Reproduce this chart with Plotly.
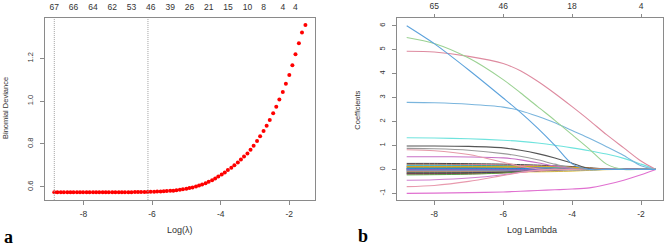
import plotly.graph_objects as go

# ---------------- Panel a: cross-validated binomial deviance ----------------
log_lambda = [-8.85, -8.76, -8.66, -8.57, -8.47, -8.38, -8.29, -8.19, -8.10, -8.01,
              -7.91, -7.82, -7.72, -7.63, -7.54, -7.44, -7.35, -7.26, -7.16, -7.07,
              -6.97, -6.88, -6.79, -6.69, -6.60, -6.50, -6.41, -6.32, -6.22, -6.13,
              -6.04, -5.94, -5.85, -5.75, -5.66, -5.57, -5.47, -5.38, -5.29, -5.19,
              -5.10, -5.00, -4.91, -4.82, -4.72, -4.63, -4.54, -4.44, -4.35, -4.25,
              -4.16, -4.07, -3.97, -3.88, -3.79, -3.69, -3.60, -3.50, -3.41, -3.32,
              -3.22, -3.13, -3.04, -2.94, -2.85, -2.75, -2.66, -2.57, -2.47, -2.38,
              -2.29, -2.19, -2.10, -2.00, -1.91, -1.82, -1.72, -1.63, -1.53]
deviance = [0.574, 0.574, 0.574, 0.574, 0.574, 0.574, 0.574, 0.574, 0.574, 0.574,
            0.574, 0.574, 0.574, 0.574, 0.574, 0.575, 0.575, 0.575, 0.575, 0.575,
            0.575, 0.575, 0.575, 0.575, 0.575, 0.576, 0.576, 0.576, 0.576, 0.576,
            0.577, 0.577, 0.578, 0.578, 0.579, 0.580, 0.581, 0.582, 0.584, 0.586,
            0.588, 0.591, 0.594, 0.597, 0.601, 0.606, 0.611, 0.617, 0.624, 0.631,
            0.639, 0.648, 0.657, 0.667, 0.678, 0.689, 0.701, 0.714, 0.728, 0.742,
            0.756, 0.773, 0.792, 0.814, 0.836, 0.860, 0.885, 0.912, 0.943, 0.974,
            1.008, 1.043, 1.081, 1.122, 1.167, 1.219, 1.270, 1.321, 1.356]
nz_index = [0, 6, 12, 18, 24, 30, 36, 42, 48, 54, 60, 65, 71, 75]
nz_labels = ["67", "66", "64", "62", "53", "46", "39", "26", "21", "15", "10", "8", "4", "4"]
log_lambda_min = -8.85
log_lambda_1se = -6.12
a_xticks = [-8, -6, -4, -2]
a_xlabels = ["-8", "-6", "-4", "-2"]
a_yticks = [0.6, 0.8, 1.0, 1.2]
a_ylabels = ["0.6", "0.8", "1.0", "1.2"]

# ---------------- Panel b: coefficient paths ----------------
coef_log_lambda = [-8.8, -8.0, -7.0, -6.0, -5.5, -5.0, -4.5, -4.0, -3.5, -3.0, -2.5, -2.0, -1.57]
coef_blue = [6.0, 5.25, 4.15, 2.98, 2.38, 1.72, 1.0, 0.23, 0, 0, 0, 0, 0]
coef_green = [5.51, 5.26, 4.65, 3.75, 3.2, 2.62, 2.05, 1.45, 0.85, 0.22, 0, 0, 0]
coef_pink = [4.93, 4.9, 4.72, 4.42, 4.12, 3.68, 3.17, 2.62, 2.05, 1.45, 0.9, 0.35, 0]
coef_steel = [2.8, 2.78, 2.72, 2.6, 2.45, 2.22, 1.95, 1.62, 1.3, 0.95, 0.58, 0.15, 0]
coef_cyan = [1.32, 1.31, 1.28, 1.22, 1.17, 1.1, 1.01, 0.9, 0.78, 0.64, 0.46, 0.22, 0]
coef_black = [0.98, 0.98, 0.96, 0.9, 0.8, 0.66, 0.48, 0.26, 0.03, 0, 0, 0, 0]
coef_grey = [0.88, 0.86, 0.8, 0.66, 0.55, 0.4, 0.22, 0.06, 0, 0, 0, 0, 0]
coef_salmon = [0.82, 0.78, 0.62, 0.3, 0.13, 0.03, 0, 0, 0, 0, 0, 0, 0]
coef_purple = [0.53, 0.53, 0.52, 0.48, 0.4, 0.28, 0.14, 0.04, 0, 0, 0, 0, 0]
coef_magenta_neg = [-1.0, -0.99, -0.97, -0.94, -0.91, -0.88, -0.85, -0.82, -0.77, -0.63, -0.45, -0.22, 0]
coef_pink_neg = [-0.72, -0.67, -0.5, -0.25, -0.13, -0.04, 0, 0, 0, 0, 0, 0, 0]
coef_purple_neg = [-0.45, -0.43, -0.36, -0.22, -0.12, -0.04, 0, 0, 0, 0, 0, 0, 0]
coef_small = [
    [0.25, 0.25, 0.24, 0.22, 0.20, 0.18, 0.15, 0.12, 0.07, 0.02, 0, 0, 0],
    [0.21, 0.21, 0.20, 0.18, 0.16, 0.14, 0.12, 0.09, 0.05, 0.01, 0, 0, 0],
    [0.18, 0.18, 0.17, 0.15, 0.13, 0.10, 0.07, 0.04, 0.01, 0, 0, 0, 0],
    [0.15, 0.15, 0.15, 0.14, 0.12, 0.10, 0.07, 0.04, 0.01, 0, 0, 0, 0],
    [0.13, 0.13, 0.12, 0.11, 0.10, 0.08, 0.05, 0.02, 0, 0, 0, 0, 0],
    [0.11, 0.11, 0.10, 0.09, 0.08, 0.06, 0.04, 0.02, 0, 0, 0, 0, 0],
    [0.09, 0.09, 0.09, 0.08, 0.06, 0.04, 0.02, 0, 0, 0, 0, 0, 0],
    [0.07, 0.07, 0.07, 0.06, 0.05, 0.03, 0.01, 0, 0, 0, 0, 0, 0],
    [0.05, 0.05, 0.05, 0.04, 0.03, 0.02, 0.01, 0, 0, 0, 0, 0, 0],
    [0.03, 0.03, 0.03, 0.03, 0.02, 0.01, 0, 0, 0, 0, 0, 0, 0],
    [0.01, 0.01, 0.01, 0.01, 0.01, 0.01, 0.01, 0.01, 0, 0, 0, 0, 0],
    [-0.01, -0.01, -0.01, -0.01, -0.01, 0, 0, 0, 0, 0, 0, 0, 0],
    [-0.03, -0.03, -0.03, -0.03, -0.02, -0.01, 0, 0, 0, 0, 0, 0, 0],
    [-0.05, -0.05, -0.05, -0.04, -0.03, -0.02, -0.01, 0, 0, 0, 0, 0, 0],
    [-0.07, -0.07, -0.07, -0.06, -0.05, -0.03, -0.01, 0, 0, 0, 0, 0, 0],
    [-0.09, -0.09, -0.09, -0.08, -0.06, -0.04, -0.02, 0, 0, 0, 0, 0, 0],
    [-0.10, -0.10, -0.10, -0.10, -0.10, -0.10, -0.09, -0.07, -0.04, -0.01, 0, 0, 0],
    [-0.12, -0.12, -0.12, -0.10, -0.08, -0.05, -0.02, 0, 0, 0, 0, 0, 0],
    [-0.14, -0.14, -0.13, -0.11, -0.08, -0.05, -0.02, 0, 0, 0, 0, 0, 0],
    [-0.16, -0.16, -0.15, -0.12, -0.09, -0.05, -0.02, 0, 0, 0, 0, 0, 0],
    [-0.18, -0.18, -0.17, -0.13, -0.09, -0.05, -0.01, 0, 0, 0, 0, 0, 0],
    [-0.20, -0.20, -0.19, -0.15, -0.11, -0.07, -0.03, 0, 0, 0, 0, 0, 0],
    [-0.23, -0.22, -0.20, -0.15, -0.10, -0.05, -0.01, 0, 0, 0, 0, 0, 0],
    [0.04, 0.04, 0.04, 0.04, 0.04, 0.03, 0.02, 0.01, 0, 0, 0, 0, 0],
    [0.00, 0.00, 0.00, 0.00, 0.00, 0.00, 0.00, 0.00, 0.00, 0.00, 0, 0, 0],
    [-0.02, -0.02, -0.02, -0.02, -0.02, -0.02, -0.01, 0, 0, 0, 0, 0, 0],
    [0.12, 0.12, 0.12, 0.12, 0.12, 0.12, 0.11, 0.09, 0.05, 0.01, 0, 0, 0],
    [-0.06, -0.06, -0.06, -0.06, -0.06, -0.06, -0.06, -0.05, -0.03, 0, 0, 0, 0],
]
b_xticks = [-8, -6, -4, -2]
b_xlabels = ["-8", "-6", "-4", "-2"]
b_top_labels = ["65", "46", "18", "4"]
b_yticks = [-1, 0, 1, 2, 3, 4, 5, 6]
b_ylabels = ["-1", "0", "1", "2", "3", "4", "5", "6"]

# ---------------- styling ----------------
FONT = "Liberation Sans, Arial, sans-serif"
TXT = "#333333"
BOX = "#8a8a8a"
small_palette = ["#222222", "#DF536B", "#3fa83a", "#2297E6", "#28E2E5", "#CD0BBC",
                 "#E0B400", "#9e9e9e", "#1f5f1f", "#6a3d9a"]

fig = go.Figure()

# panel a points
fig.add_trace(go.Scatter(x=log_lambda, y=deviance, mode="markers",
                         marker=dict(color="#ff0000", size=4, line=dict(width=0)),
                         xaxis="x", yaxis="y", showlegend=False, hoverinfo="skip"))
# invisible trace for top axis of panel a
fig.add_trace(go.Scatter(x=[log_lambda[i] for i in nz_index], y=[None] * len(nz_index),
                         mode="markers", xaxis="x3", yaxis="y", showlegend=False,
                         hoverinfo="skip"))

# panel b paths
for k, vals in enumerate(coef_small):
    fig.add_trace(go.Scatter(x=coef_log_lambda, y=vals, mode="lines",
                             line=dict(color=small_palette[k % len(small_palette)], width=1,
                                       shape="spline", smoothing=0.8),
                             opacity=0.85, xaxis="x2", yaxis="y2", showlegend=False,
                             hoverinfo="skip"))

big_paths = [
    (coef_purple_neg, "#cf7fd0"),
    (coef_pink_neg, "#e89aae"),
    (coef_magenta_neg, "#e070d0"),
    (coef_purple, "#c770c6"),
    (coef_salmon, "#e59aa8"),
    (coef_grey, "#9a9a9a"),
    (coef_black, "#555555"),
    (coef_cyan, "#6fe3dd"),
    (coef_steel, "#7ab5dd"),
    (coef_pink, "#de8ba0"),
    (coef_green, "#9bd293"),
    (coef_blue, "#5ea3dc"),
]
for vals, col in big_paths:
    fig.add_trace(go.Scatter(x=coef_log_lambda, y=vals, mode="lines",
                             line=dict(color=col, width=1.1, shape="spline", smoothing=0.8),
                             xaxis="x2", yaxis="y2", showlegend=False, hoverinfo="skip"))
# invisible trace for top axis of panel b
fig.add_trace(go.Scatter(x=b_xticks, y=[None] * len(b_xticks), mode="markers",
                         xaxis="x4", yaxis="y2", showlegend=False, hoverinfo="skip"))

# dotted vertical lines (lambda.min and lambda.1se)
for xv in [log_lambda_min, log_lambda_1se]:
    fig.add_shape(type="line", xref="x", yref="y domain", x0=xv, x1=xv, y0=0, y1=1,
                  line=dict(color="#a0a0a0", width=1, dash="1px,1px"))

y_dom = [0.190, 0.927]
common_x = dict(showgrid=False, zeroline=False, showline=True, mirror=True,
                linecolor=BOX, linewidth=1, ticks="outside", ticklen=4, tickcolor=BOX,
                tickfont=dict(family=FONT, size=8.5, color=TXT), ticklabelstandoff=2)
common_y = dict(showgrid=False, zeroline=False, showline=True, mirror=True,
                linecolor=BOX, linewidth=1, ticks="outside", ticklen=4, tickcolor=BOX,
                tickangle=-90, tickfont=dict(family=FONT, size=7.5, color=TXT),
                ticklabelstandoff=4)

fig.update_layout(
    width=669, height=247,
    margin=dict(l=0, r=0, t=0, b=0),
    paper_bgcolor="white", plot_bgcolor="white",
    xaxis=dict(domain=[0.0673, 0.4709], anchor="y", range=[-9.12, -1.25],
               tickmode="array", tickvals=a_xticks, ticktext=a_xlabels, **common_x),
    yaxis=dict(domain=y_dom, anchor="x", range=[0.538, 1.388],
               tickmode="array", tickvals=a_yticks, ticktext=a_ylabels, **common_y),
    xaxis3=dict(overlaying="x", side="top", anchor="y", range=[-9.12, -1.25],
                tickmode="array", tickvals=[log_lambda[i] for i in nz_index],
                ticktext=nz_labels, ticks="", showline=False, showgrid=False,
                zeroline=False, ticklabelstandoff=5,
                tickfont=dict(family=FONT, size=8.5, color=TXT)),
    xaxis2=dict(domain=[0.593, 0.9906], anchor="y2", range=[-9.09, -1.37],
                tickmode="array", tickvals=b_xticks, ticktext=b_xlabels, **common_x),
    yaxis2=dict(domain=y_dom, anchor="x2", range=[-1.28, 6.32],
                tickmode="array", tickvals=b_yticks, ticktext=b_ylabels, **common_y),
    xaxis4=dict(overlaying="x2", side="top", anchor="y2", range=[-9.09, -1.37],
                tickmode="array", tickvals=b_xticks, ticktext=b_top_labels,
                ticks="outside", ticklen=3, tickcolor=BOX, showline=False,
                showgrid=False, zeroline=False, ticklabelstandoff=2,
                tickfont=dict(family=FONT, size=8.5, color=TXT)),
    annotations=[
        dict(text="Log(λ)", x=180 / 669, y=1 - 230 / 247, xref="paper", yref="paper",
             showarrow=False, font=dict(family=FONT, size=9, color=TXT),
             xanchor="center", yanchor="middle"),
        dict(text="Binomial Deviance", x=5 / 669, y=1 - 108 / 247, xref="paper",
             yref="paper", showarrow=False, textangle=-90,
             font=dict(family=FONT, size=7.5, color=TXT), xanchor="center",
             yanchor="middle"),
        dict(text="Log Lambda", x=531.7 / 669, y=1 - 230 / 247, xref="paper",
             yref="paper", showarrow=False, font=dict(family=FONT, size=9, color=TXT),
             xanchor="center", yanchor="middle"),
        dict(text="Coefficients", x=356.7 / 669, y=1 - 110 / 247, xref="paper",
             yref="paper", showarrow=False, textangle=-90,
             font=dict(family=FONT, size=7.5, color=TXT), xanchor="center",
             yanchor="middle"),
        dict(text="<b>a</b>", x=8 / 669, y=1 - 237 / 247, xref="paper", yref="paper",
             showarrow=False, font=dict(family="Liberation Serif, Times New Roman, serif",
                                        size=18, color="#000000"),
             xanchor="center", yanchor="middle"),
        dict(text="<b>b</b>", x=362.5 / 669, y=1 - 236 / 247, xref="paper", yref="paper",
             showarrow=False, font=dict(family="Liberation Serif, Times New Roman, serif",
                                        size=18, color="#000000"),
             xanchor="center", yanchor="middle"),
    ],
)

fig.write_html("out.html",
               config={"displayModeBar": False},
               post_script="document.body.style.margin='0px';"
                           "document.body.style.overflow='hidden';")
